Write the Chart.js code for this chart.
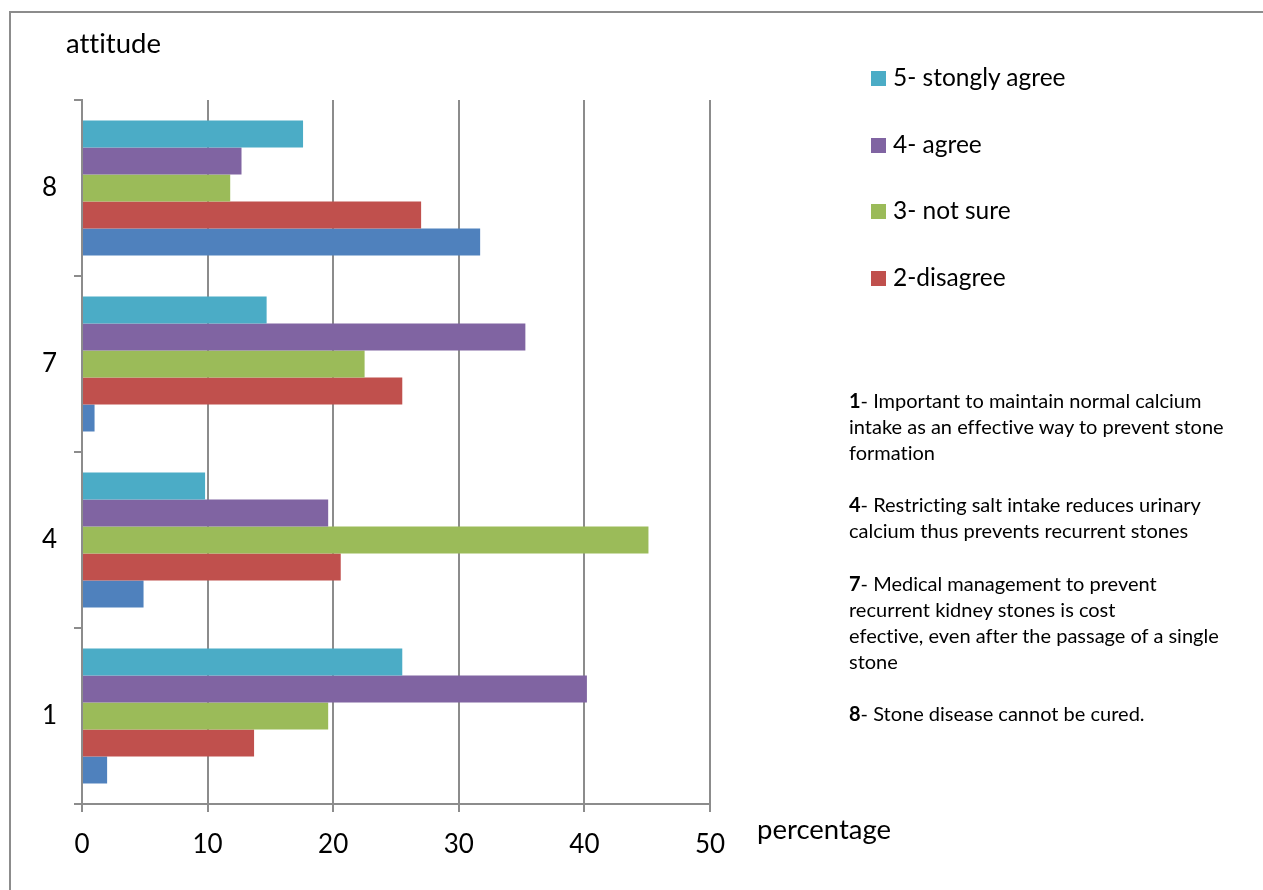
<!DOCTYPE html>
<html>
<head>
<meta charset="utf-8">
<script src="https://cdn.jsdelivr.net/npm/chart.js@4/dist/chart.umd.min.js"></script>
<style>
  html, body { margin: 0; padding: 0; background: #fff; }
  #wrap { position: relative; width: 1263px; height: 890px; overflow: hidden; font-family: Lato, "Open Sans", sans-serif; color: #000; font-variant-ligatures: none; font-feature-settings: "liga" 0, "clig" 0; }
  #frame { position: absolute; left: 9px; top: 11px; right: -4px; bottom: -4px; border-left: 2px solid #8c8c8c; border-top: 2px solid #8c8c8c; }
  canvas { position: absolute; left: 0; top: 0; }
  .txt { position: absolute; white-space: nowrap; line-height: 1; }
  #ytitle { left: 66px; top: 29px; font-size: 27.5px; }
  #xtitle { left: 757px; top: 815px; font-size: 27.5px; }
  .sw { position: absolute; left: 871px; width: 15px; height: 15px; }
  .lg { position: absolute; left: 893px; font-size: 24.5px; line-height: 1; white-space: nowrap; }
  #notes { position: absolute; left: 849px; top: 387px; font-size: 20px; line-height: 26.1px; }
  #notes p { margin: 0 0 26.1px 0; }
</style>
</head>
<body>
<div id="wrap">
  <div id="frame"></div>
  <canvas id="c" width="1263" height="890"></canvas>
  <div class="txt" id="ytitle">attitude</div>
  <div class="txt" id="xtitle">percentage</div>
  <div id="notes">
    <p><b>1</b>- Important to maintain normal calcium<br>intake as an effective way to prevent stone<br>formation</p>
    <p><b>4</b>- Restricting salt intake reduces urinary<br>calcium thus prevents recurrent stones</p>
    <p><b>7</b>- Medical management to prevent<br>recurrent kidney stones is cost<br>efective, even after the passage of a single<br>stone</p>
    <p><b>8</b>- Stone disease cannot be cured.</p>
  </div>
</div>
<script>
// Statement numbers (bottom to top)
const statements = ['1', '4', '7', '8'];

// Percentage of answers per statement, one array per response level
const stronglyAgree    = [25.5, 9.8, 14.7, 17.6];
const agree            = [40.2, 19.6, 35.3, 12.7];
const notSure          = [19.6, 45.1, 22.5, 11.8];
const disagree         = [13.7, 20.6, 25.5, 27.0];
const stronglyDisagree = [2.0, 4.9, 1.0, 31.7];

const seriesLabels = ['5- stongly agree', '4- agree', '3- not sure', '2-disagree', '1- strongly disagree'];
const seriesColors = ['#4BACC6', '#8064A2', '#9BBB59', '#C0504D', '#4F81BD'];
const seriesValues = [stronglyAgree, agree, notSure, disagree, stronglyDisagree];
// Response levels listed in the key
const keyLabels = ['5- stongly agree', '4- agree', '3- not sure', '2-disagree'];

const xTicks = [0, 10, 20, 30, 40, 50];

const axisGray = '#8c8c8c';
const tickFont = { family: 'Lato', size: 26 };

const datasets = seriesLabels.map((label, i) => ({
  label: label,
  data: seriesValues[i],
  backgroundColor: seriesColors[i],
  borderWidth: 0,
  barPercentage: 1.0,
  categoryPercentage: 0.767
}));

// Key on the right: swatch + label per row, rows 66px apart
const wrapEl = document.getElementById('wrap');
keyLabels.forEach((lbl, k) => {
  const i = seriesLabels.indexOf(lbl);
  const baseline = 87 + k * 66.5;
  const sw = document.createElement('div');
  sw.className = 'sw';
  sw.style.top = (baseline - 16) + 'px';
  sw.style.background = seriesColors[i];
  wrapEl.appendChild(sw);
  const tx = document.createElement('div');
  tx.className = 'lg';
  tx.style.top = (baseline - 21.7) + 'px';
  tx.textContent = lbl;
  wrapEl.appendChild(tx);
});

new Chart(document.getElementById('c'), {
  type: 'bar',
  data: { labels: statements, datasets: datasets },
  options: {
    indexAxis: 'y',
    responsive: false,
    animation: false,
    devicePixelRatio: 1,
    layout: { padding: { left: 0, top: 100, right: 553, bottom: 0 } },
    plugins: { legend: { display: false }, tooltip: { enabled: false } },
    scales: {
      x: {
        min: 0,
        max: 50,
        afterFit: (s) => { s.height = 86; },
        afterBuildTicks: (s) => { s.ticks = xTicks.map(v => ({ value: v })); },
        ticks: { padding: 17, color: '#000', font: tickFont },
        grid: { color: axisGray, lineWidth: 2, tickLength: 8, drawTicks: true },
        border: { display: true, color: axisGray, width: 2 }
      },
      y: {
        reverse: true,
        afterFit: (s) => { s.width = 82; },
        ticks: { padding: 17, color: '#000', font: tickFont },
        grid: { drawOnChartArea: false, drawTicks: true, tickLength: 8, color: axisGray, lineWidth: 2 },
        border: { display: true, color: axisGray, width: 2 }
      }
    }
  }
});
</script>
</body>
</html>
